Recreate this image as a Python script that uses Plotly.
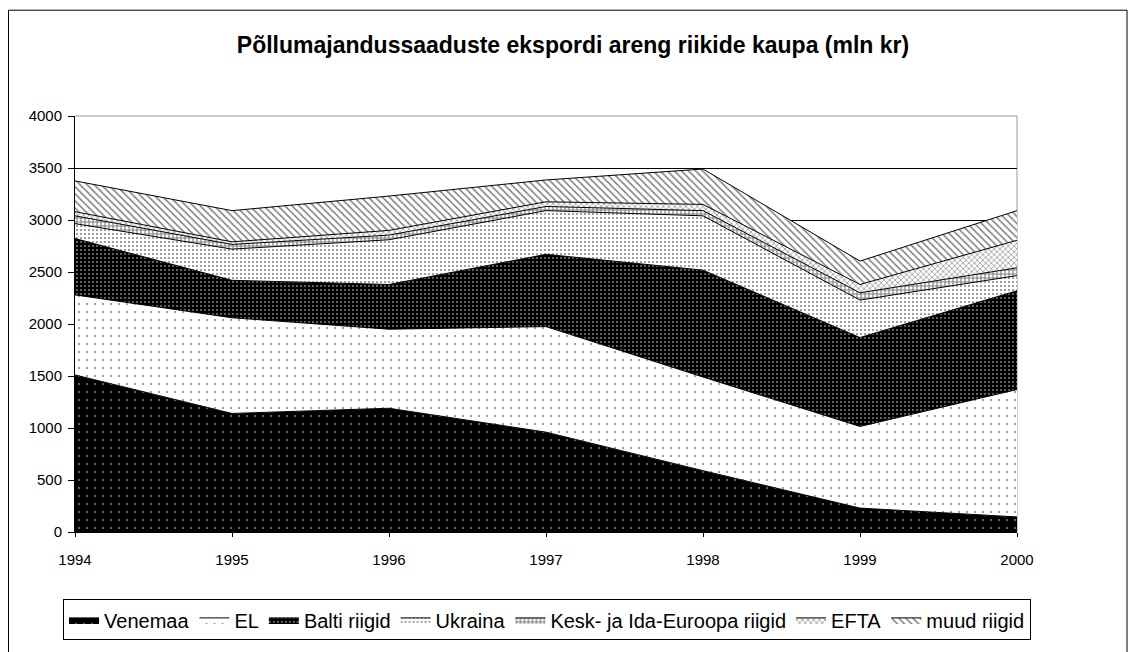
import plotly.graph_objects as go

# Andmed loetud jooniselt (mln kr)
aastad = [1994, 1995, 1996, 1997, 1998, 1999, 2000]

venemaa = [1510, 1140, 1190, 960, 590, 230, 145]
el = [770, 920, 760, 1015, 900, 785, 1225]
balti = [542, 360, 430, 695, 1028, 855, 950]
ukraina = [143, 300, 430, 420, 522, 360, 145]
kesk_ida = [75, 45, 45, 40, 50, 70, 75]
efta = [40, 25, 45, 45, 60, 80, 265]
muud = [296, 300, 330, 210, 340, 225, 285]

y_ticks = [0, 500, 1000, 1500, 2000, 2500, 3000, 3500, 4000]

FONT = "Liberation Sans, Arial, sans-serif"

# (nimi, väärtused, muster)
series = [
    ("Venemaa", venemaa, dict(shape=".", bgcolor="black", fgcolor="white", size=8, solidity=0.05)),
    ("EL", el, dict(shape=".", bgcolor="white", fgcolor="black", size=8, solidity=0.05)),
    ("Balti riigid", balti, dict(shape=".", bgcolor="black", fgcolor="white", size=4, solidity=0.2)),
    ("Ukraina", ukraina, dict(shape=".", bgcolor="white", fgcolor="black", size=4, solidity=0.2)),
    ("Kesk- ja Ida-Euroopa riigid", kesk_ida, dict(shape="+", bgcolor="white", fgcolor="black", size=4, solidity=0.5)),
    ("EFTA", efta, dict(shape="x", bgcolor="white", fgcolor="black", size=4, solidity=0.3)),
    ("muud riigid", muud, dict(shape="\\", bgcolor="white", fgcolor="black", size=5, solidity=0.3)),
]

fig = go.Figure()
for nimi, vals, pat in series:
    fig.add_trace(go.Scatter(
        x=aastad,
        y=vals,
        name=nimi,
        mode="lines",
        stackgroup="one",
        line=dict(color="black", width=1),
        fillpattern=pat,
        fillcolor=pat["bgcolor"],
        hovertemplate=nimi + ": %{y}<extra></extra>",
    ))

# välimine raam ja joonestusala servad
fig.add_shape(type="rect", xref="paper", yref="paper",
              x0=-0.0706, x1=1.1168, y0=-0.30, y1=1.2543,
              line=dict(color="black", width=1), layer="below")
fig.add_shape(type="line", xref="paper", yref="paper", x0=0, x1=1, y0=1, y1=1,
              line=dict(color="#999", width=1), layer="below")
fig.add_shape(type="line", xref="paper", yref="paper", x0=1, x1=1, y0=0, y1=1,
              line=dict(color="#999", width=1), layer="below")

fig.update_layout(
    width=1130,
    height=644,
    margin=dict(l=67, r=121, t=108, b=115),
    paper_bgcolor="white",
    plot_bgcolor="white",
    font=dict(family=FONT, color="black", size=15),
    title=dict(
        text="<b>Põllumajandussaaduste ekspordi areng riikide kaupa (mln kr)</b>",
        x=0.5, xref="container", xanchor="center",
        y=0.9425, yref="container", yanchor="middle",
        font=dict(size=23, family=FONT),
    ),
    xaxis=dict(
        range=[1994, 2000],
        tickvals=aastad,
        ticktext=[str(a) for a in aastad],
        showgrid=False,
        zeroline=False,
        showline=True,
        linecolor="black",
        linewidth=1,
        ticks="outside",
        ticklen=4,
        tickcolor="black",
        tickfont=dict(size=15),
        ticklabelstandoff=10,
    ),
    yaxis=dict(
        range=[0, 4000],
        tickvals=y_ticks,
        showgrid=True,
        gridcolor="black",
        gridwidth=1,
        zeroline=False,
        showline=True,
        linecolor="black",
        linewidth=1,
        ticks="outside",
        ticklen=6,
        tickcolor="black",
        tickfont=dict(size=15),
        ticklabelstandoff=3,
    ),
    legend=dict(
        orientation="h",
        x=-0.0127, xanchor="left",
        y=-0.162, yanchor="top",
        bordercolor="black",
        borderwidth=1,
        bgcolor="white",
        font=dict(size=20, family=FONT),
        itemwidth=30,
        traceorder="normal",
    ),
    showlegend=True,
)

fig.write_html("out.html")
